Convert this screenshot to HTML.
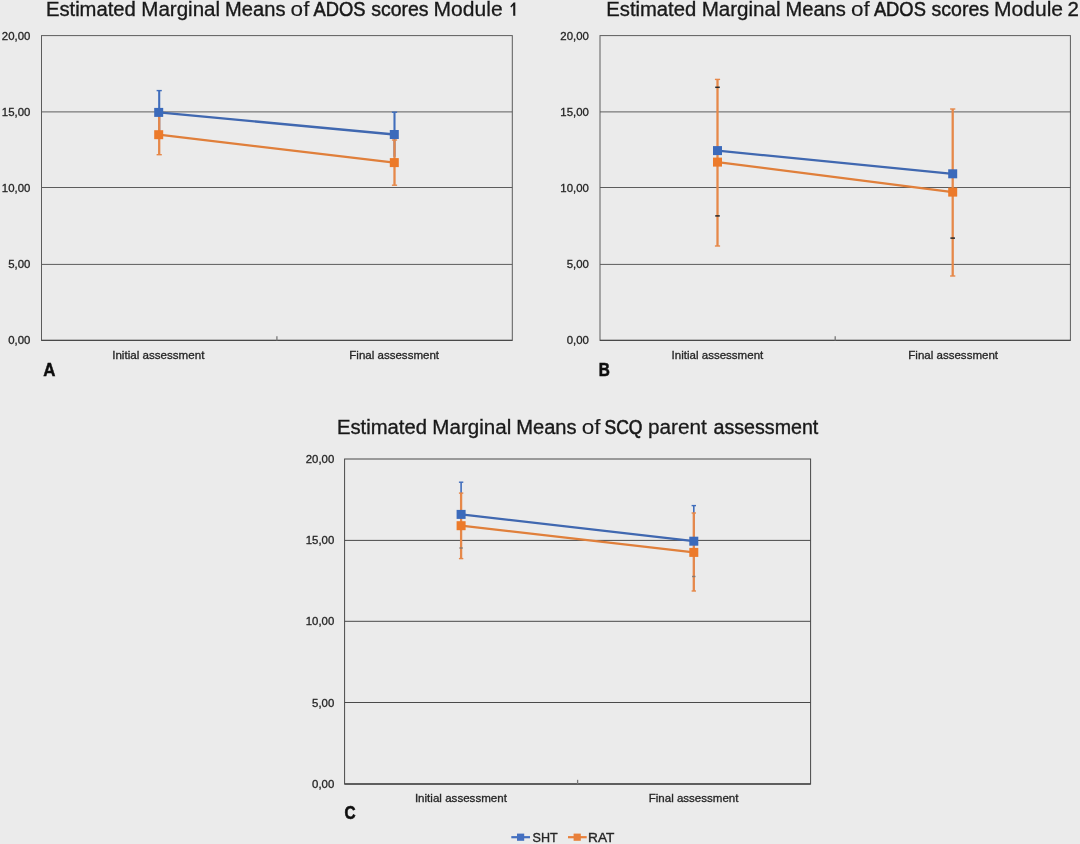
<!DOCTYPE html>
<html><head><meta charset="utf-8"><title>Estimated Marginal Means</title>
<style>
html,body{margin:0;padding:0;background:#EBEBEB;}
body{width:1080px;height:844px;overflow:hidden;font-family:"Liberation Sans",sans-serif;}
svg{display:block;font-family:"Liberation Sans",sans-serif;}
</style></head>
<body>
<svg width="1080" height="844" viewBox="0 0 1080 844">
<defs>
<filter id="soft" x="0" y="0" width="1080" height="844" filterUnits="userSpaceOnUse"><feGaussianBlur stdDeviation="0.38"/></filter>
<filter id="soft2" x="0" y="0" width="1080" height="844" filterUnits="userSpaceOnUse"><feGaussianBlur stdDeviation="0.25"/></filter>
</defs>
<rect x="0" y="0" width="1080" height="844" fill="#EBEBEB"/>
<g filter="url(#soft2)">
<line x1="41.5" y1="111.9" x2="512.3" y2="111.9" stroke="#5c5c5c" stroke-width="1.0"/>
<line x1="41.5" y1="187.5" x2="512.3" y2="187.5" stroke="#5c5c5c" stroke-width="1.0"/>
<line x1="41.5" y1="264.4" x2="512.3" y2="264.4" stroke="#5c5c5c" stroke-width="1.0"/>
<rect x="41.5" y="35.6" width="470.8" height="304.8" fill="none" stroke="#5c5c5c" stroke-width="1.0"/>
<line x1="41.5" y1="340.4" x2="512.3" y2="340.4" stroke="#4a4a4a" stroke-width="1.3"/>
<line x1="276.9" y1="340.4" x2="276.9" y2="336.2" stroke="#777" stroke-width="1.3"/>
<line x1="159.2" y1="90.6" x2="159.2" y2="134.2" stroke="#3F6DBC" stroke-width="2.1"/>
<line x1="156.6" y1="90.6" x2="161.8" y2="90.6" stroke="#3F6DBC" stroke-width="1.4"/>
<line x1="394.5" y1="112.2" x2="394.5" y2="156.8" stroke="#3F6DBC" stroke-width="2.1"/>
<line x1="391.9" y1="112.2" x2="397.1" y2="112.2" stroke="#3F6DBC" stroke-width="1.4"/>
<line x1="159.2" y1="114.7" x2="159.2" y2="154.7" stroke="#E6884A" stroke-width="2.3"/>
<line x1="156.6" y1="114.7" x2="161.8" y2="114.7" stroke="#E6884A" stroke-width="1.4"/>
<line x1="156.6" y1="154.7" x2="161.8" y2="154.7" stroke="#E6884A" stroke-width="1.4"/>
<line x1="394.5" y1="140.0" x2="394.5" y2="185.2" stroke="#E6884A" stroke-width="2.3"/>
<line x1="391.9" y1="140.0" x2="397.1" y2="140.0" stroke="#E6884A" stroke-width="1.4"/>
<line x1="391.9" y1="185.2" x2="397.1" y2="185.2" stroke="#E6884A" stroke-width="1.4"/>
<line x1="158.7" y1="112.4" x2="394.3" y2="134.5" stroke="#4067B0" stroke-width="2.3"/>
<rect x="154.2" y="107.9" width="9.0" height="9.0" fill="#3B6ABB"/>
<rect x="389.8" y="130.0" width="9.0" height="9.0" fill="#3B6ABB"/>
<line x1="158.7" y1="134.7" x2="394.3" y2="162.6" stroke="#E07F3A" stroke-width="2.3"/>
<rect x="154.2" y="130.2" width="9.0" height="9.0" fill="#EC7A2A"/>
<rect x="389.8" y="158.1" width="9.0" height="9.0" fill="#EC7A2A"/>
<path d="M510.3 6.4 L513.6 2.5 L515.3 2.5 L515.3 15.7 L513.2 15.7 L513.2 5.4 L511.3 7.6 Z" fill="#1a1a1a"/>
<line x1="600" y1="111.9" x2="1070.4" y2="111.9" stroke="#5c5c5c" stroke-width="1.0"/>
<line x1="600" y1="187.5" x2="1070.4" y2="187.5" stroke="#5c5c5c" stroke-width="1.0"/>
<line x1="600" y1="264.4" x2="1070.4" y2="264.4" stroke="#5c5c5c" stroke-width="1.0"/>
<rect x="600" y="35.6" width="470.4" height="304.8" fill="none" stroke="#5c5c5c" stroke-width="1.0"/>
<line x1="600" y1="340.4" x2="1070.4" y2="340.4" stroke="#4a4a4a" stroke-width="1.3"/>
<line x1="835.2" y1="340.4" x2="835.2" y2="336.2" stroke="#777" stroke-width="1.3"/>
<line x1="717.5" y1="79.4" x2="717.5" y2="246.0" stroke="#E6884A" stroke-width="2.3"/>
<line x1="714.9" y1="79.4" x2="720.1" y2="79.4" stroke="#E6884A" stroke-width="1.4"/>
<line x1="714.9" y1="246.0" x2="720.1" y2="246.0" stroke="#E6884A" stroke-width="1.4"/>
<line x1="952.7" y1="109.0" x2="952.7" y2="276.0" stroke="#E6884A" stroke-width="2.3"/>
<line x1="950.1" y1="109.0" x2="955.3" y2="109.0" stroke="#E6884A" stroke-width="1.4"/>
<line x1="950.1" y1="276.0" x2="955.3" y2="276.0" stroke="#E6884A" stroke-width="1.4"/>
<rect x="715.2" y="86.55" width="4.6" height="1.5" fill="#2a2a2a"/>
<rect x="715.2" y="215.15" width="4.6" height="1.5" fill="#2a2a2a"/>
<rect x="950.4" y="237.35" width="4.6" height="1.5" fill="#2a2a2a"/>
<line x1="717.5" y1="150.6" x2="952.7" y2="173.8" stroke="#4067B0" stroke-width="2.3"/>
<rect x="713.0" y="146.1" width="9.0" height="9.0" fill="#3B6ABB"/>
<rect x="948.2" y="169.3" width="9.0" height="9.0" fill="#3B6ABB"/>
<line x1="717.5" y1="162.1" x2="952.7" y2="192.1" stroke="#E07F3A" stroke-width="2.3"/>
<rect x="713.0" y="157.6" width="9.0" height="9.0" fill="#EC7A2A"/>
<rect x="948.2" y="187.6" width="9.0" height="9.0" fill="#EC7A2A"/>
<line x1="344.6" y1="540.4" x2="810.6" y2="540.4" stroke="#484848" stroke-width="1.0"/>
<line x1="344.6" y1="621.3" x2="810.6" y2="621.3" stroke="#484848" stroke-width="1.0"/>
<line x1="344.6" y1="702.5" x2="810.6" y2="702.5" stroke="#484848" stroke-width="1.0"/>
<rect x="344.6" y="459.0" width="466.0" height="325.0" fill="none" stroke="#484848" stroke-width="1.0"/>
<line x1="344.6" y1="784.0" x2="810.6" y2="784.0" stroke="#4a4a4a" stroke-width="1.3"/>
<line x1="577.6" y1="784.0" x2="577.6" y2="779.8" stroke="#777" stroke-width="1.3"/>
<line x1="461.1" y1="482.2" x2="461.1" y2="548.0" stroke="#3F6DBC" stroke-width="1.6"/>
<line x1="458.9" y1="482.2" x2="463.3" y2="482.2" stroke="#3F6DBC" stroke-width="1.4"/>
<line x1="693.8" y1="505.6" x2="693.8" y2="576.5" stroke="#3F6DBC" stroke-width="1.6"/>
<line x1="691.6" y1="505.6" x2="696.0" y2="505.6" stroke="#3F6DBC" stroke-width="1.4"/>
<line x1="461.1" y1="493.1" x2="461.1" y2="558.6" stroke="#E6884A" stroke-width="2.3"/>
<line x1="458.9" y1="493.1" x2="463.3" y2="493.1" stroke="#E6884A" stroke-width="1.4"/>
<line x1="458.9" y1="558.6" x2="463.3" y2="558.6" stroke="#E6884A" stroke-width="1.4"/>
<line x1="693.8" y1="513.0" x2="693.8" y2="591.0" stroke="#E6884A" stroke-width="2.3"/>
<line x1="691.6" y1="513.0" x2="696.0" y2="513.0" stroke="#E6884A" stroke-width="1.4"/>
<line x1="691.6" y1="591.0" x2="696.0" y2="591.0" stroke="#E6884A" stroke-width="1.4"/>
<rect x="459.4" y="547.3" width="3.4" height="1.4" fill="#8a7a70"/>
<rect x="692.1" y="575.8" width="3.4" height="1.4" fill="#8a7a70"/>
<line x1="461.1" y1="514.4" x2="693.8" y2="541.2" stroke="#4067B0" stroke-width="2.3"/>
<rect x="456.6" y="509.9" width="9.0" height="9.0" fill="#3B6ABB"/>
<rect x="689.3" y="536.7" width="9.0" height="9.0" fill="#3B6ABB"/>
<line x1="461.1" y1="525.7" x2="693.8" y2="552.4" stroke="#E07F3A" stroke-width="2.3"/>
<rect x="456.6" y="521.2" width="9.0" height="9.0" fill="#EC7A2A"/>
<rect x="689.3" y="547.9" width="9.0" height="9.0" fill="#EC7A2A"/>
<line x1="511.3" y1="837.2" x2="530" y2="837.2" stroke="#4470C0" stroke-width="2.2"/>
<rect x="517.0" y="833.6" width="7.2" height="7.2" fill="#4470C0"/>
<line x1="568" y1="837.2" x2="586.7" y2="837.2" stroke="#E8803A" stroke-width="2.2"/>
<rect x="573.6" y="833.6" width="7.2" height="7.2" fill="#E8803A"/>
</g>
<g filter="url(#soft)">
<text x="1.86" y="39.5" font-size="11.4" font-weight="normal" fill="#262626" stroke="#262626" stroke-width="0.31">20,00</text>
<text x="1.86" y="115.7" font-size="11.4" font-weight="normal" fill="#262626" stroke="#262626" stroke-width="0.31">15,00</text>
<text x="1.86" y="191.9" font-size="11.4" font-weight="normal" fill="#262626" stroke="#262626" stroke-width="0.31">10,00</text>
<text x="8.20" y="268.1" font-size="11.4" font-weight="normal" fill="#262626" stroke="#262626" stroke-width="0.31">5,00</text>
<text x="8.20" y="344.3" font-size="11.4" font-weight="normal" fill="#262626" stroke="#262626" stroke-width="0.31">0,00</text>
<text x="45.92" y="15.7" font-size="19.5" font-weight="normal" fill="#1a1a1a" stroke="#1a1a1a" stroke-width="0.35" textLength="89.92" lengthAdjust="spacingAndGlyphs">Estimated</text>
<text x="141.29" y="15.7" font-size="19.5" font-weight="normal" fill="#1a1a1a" stroke="#1a1a1a" stroke-width="0.31" textLength="78.86" lengthAdjust="spacingAndGlyphs">Marginal</text>
<text x="225.13" y="15.7" font-size="19.5" font-weight="normal" fill="#1a1a1a" stroke="#1a1a1a" stroke-width="0.36" textLength="60.30" lengthAdjust="spacingAndGlyphs">Means</text>
<text x="290.59" y="15.7" font-size="19.5" font-weight="normal" fill="#1a1a1a" stroke="#1a1a1a" stroke-width="0.1" textLength="18.83" lengthAdjust="spacingAndGlyphs">of</text>
<text x="313.50" y="15.7" font-size="19.5" font-weight="normal" fill="#1a1a1a" stroke="#1a1a1a" stroke-width="0.54" textLength="51.97" lengthAdjust="spacingAndGlyphs">ADOS</text>
<text x="371.20" y="15.7" font-size="19.5" font-weight="normal" fill="#1a1a1a" stroke="#1a1a1a" stroke-width="0.42" textLength="57.41" lengthAdjust="spacingAndGlyphs">scores</text>
<text x="433.55" y="15.7" font-size="19.5" font-weight="normal" fill="#1a1a1a" stroke="#1a1a1a" stroke-width="0.26" textLength="69.10" lengthAdjust="spacingAndGlyphs">Module</text>
<text x="112.19" y="358.7" font-size="11.5" font-weight="normal" fill="#262626" stroke="#262626" stroke-width="0.31" textLength="92.17" lengthAdjust="spacingAndGlyphs">Initial assessment</text>
<text x="349.30" y="358.7" font-size="11.5" font-weight="normal" fill="#262626" stroke="#262626" stroke-width="0.31" textLength="89.76" lengthAdjust="spacingAndGlyphs">Final assessment</text>
<text x="43.14" y="375.8" font-size="17.5" font-weight="bold" fill="#111" stroke="#111" stroke-width="0.45" textLength="12.18" lengthAdjust="spacingAndGlyphs">A</text>
<text x="560.36" y="39.5" font-size="11.4" font-weight="normal" fill="#262626" stroke="#262626" stroke-width="0.31">20,00</text>
<text x="560.36" y="115.7" font-size="11.4" font-weight="normal" fill="#262626" stroke="#262626" stroke-width="0.31">15,00</text>
<text x="560.36" y="191.9" font-size="11.4" font-weight="normal" fill="#262626" stroke="#262626" stroke-width="0.31">10,00</text>
<text x="566.70" y="268.1" font-size="11.4" font-weight="normal" fill="#262626" stroke="#262626" stroke-width="0.31">5,00</text>
<text x="566.70" y="344.3" font-size="11.4" font-weight="normal" fill="#262626" stroke="#262626" stroke-width="0.31">0,00</text>
<text x="606.32" y="15.7" font-size="19.5" font-weight="normal" fill="#1a1a1a" stroke="#1a1a1a" stroke-width="0.35" textLength="89.92" lengthAdjust="spacingAndGlyphs">Estimated</text>
<text x="701.69" y="15.7" font-size="19.5" font-weight="normal" fill="#1a1a1a" stroke="#1a1a1a" stroke-width="0.31" textLength="78.86" lengthAdjust="spacingAndGlyphs">Marginal</text>
<text x="785.53" y="15.7" font-size="19.5" font-weight="normal" fill="#1a1a1a" stroke="#1a1a1a" stroke-width="0.36" textLength="60.30" lengthAdjust="spacingAndGlyphs">Means</text>
<text x="850.99" y="15.7" font-size="19.5" font-weight="normal" fill="#1a1a1a" stroke="#1a1a1a" stroke-width="0.1" textLength="18.83" lengthAdjust="spacingAndGlyphs">of</text>
<text x="873.90" y="15.7" font-size="19.5" font-weight="normal" fill="#1a1a1a" stroke="#1a1a1a" stroke-width="0.54" textLength="51.97" lengthAdjust="spacingAndGlyphs">ADOS</text>
<text x="931.60" y="15.7" font-size="19.5" font-weight="normal" fill="#1a1a1a" stroke="#1a1a1a" stroke-width="0.42" textLength="57.41" lengthAdjust="spacingAndGlyphs">scores</text>
<text x="993.95" y="15.7" font-size="19.5" font-weight="normal" fill="#1a1a1a" stroke="#1a1a1a" stroke-width="0.26" textLength="69.10" lengthAdjust="spacingAndGlyphs">Module</text>
<text x="1067.44" y="15.7" font-size="19.5" font-weight="normal" fill="#1a1a1a" stroke="#1a1a1a" stroke-width="0.32" textLength="11.39" lengthAdjust="spacingAndGlyphs">2</text>
<text x="671.60" y="358.7" font-size="11.5" font-weight="normal" fill="#262626" stroke="#262626" stroke-width="0.31" textLength="91.66" lengthAdjust="spacingAndGlyphs">Initial assessment</text>
<text x="908.30" y="358.7" font-size="11.5" font-weight="normal" fill="#262626" stroke="#262626" stroke-width="0.31" textLength="89.76" lengthAdjust="spacingAndGlyphs">Final assessment</text>
<text x="598.84" y="375.9" font-size="17.5" font-weight="bold" fill="#111" stroke="#111" stroke-width="0.6" textLength="11.09" lengthAdjust="spacingAndGlyphs">B</text>
<text x="305.76" y="462.6" font-size="11.4" font-weight="normal" fill="#262626" stroke="#262626" stroke-width="0.31">20,00</text>
<text x="305.76" y="544.01" font-size="11.4" font-weight="normal" fill="#262626" stroke="#262626" stroke-width="0.31">15,00</text>
<text x="305.76" y="625.42" font-size="11.4" font-weight="normal" fill="#262626" stroke="#262626" stroke-width="0.31">10,00</text>
<text x="312.10" y="706.84" font-size="11.4" font-weight="normal" fill="#262626" stroke="#262626" stroke-width="0.31">5,00</text>
<text x="312.10" y="788.25" font-size="11.4" font-weight="normal" fill="#262626" stroke="#262626" stroke-width="0.31">0,00</text>
<text x="337.02" y="434.1" font-size="19.5" font-weight="normal" fill="#1a1a1a" stroke="#1a1a1a" stroke-width="0.35" textLength="89.92" lengthAdjust="spacingAndGlyphs">Estimated</text>
<text x="432.39" y="434.1" font-size="19.5" font-weight="normal" fill="#1a1a1a" stroke="#1a1a1a" stroke-width="0.31" textLength="78.86" lengthAdjust="spacingAndGlyphs">Marginal</text>
<text x="516.23" y="434.1" font-size="19.5" font-weight="normal" fill="#1a1a1a" stroke="#1a1a1a" stroke-width="0.36" textLength="60.30" lengthAdjust="spacingAndGlyphs">Means</text>
<text x="581.69" y="434.1" font-size="19.5" font-weight="normal" fill="#1a1a1a" stroke="#1a1a1a" stroke-width="0.1" textLength="18.83" lengthAdjust="spacingAndGlyphs">of</text>
<text x="604.55" y="434.1" font-size="19.5" font-weight="normal" fill="#1a1a1a" stroke="#1a1a1a" stroke-width="0.63" textLength="37.91" lengthAdjust="spacingAndGlyphs">SCQ</text>
<text x="648.00" y="434.1" font-size="19.5" font-weight="normal" fill="#1a1a1a" stroke="#1a1a1a" stroke-width="0.29" textLength="58.83" lengthAdjust="spacingAndGlyphs">parent</text>
<text x="713.49" y="434.1" font-size="19.5" font-weight="normal" fill="#1a1a1a" stroke="#1a1a1a" stroke-width="0.4" textLength="104.85" lengthAdjust="spacingAndGlyphs">assessment</text>
<text x="414.90" y="802.0" font-size="11.5" font-weight="normal" fill="#262626" stroke="#262626" stroke-width="0.31" textLength="92.07" lengthAdjust="spacingAndGlyphs">Initial assessment</text>
<text x="648.70" y="802.0" font-size="11.5" font-weight="normal" fill="#262626" stroke="#262626" stroke-width="0.31" textLength="89.76" lengthAdjust="spacingAndGlyphs">Final assessment</text>
<text x="344.62" y="819.2" font-size="17.5" font-weight="bold" fill="#111" stroke="#111" stroke-width="0.6" textLength="11.07" lengthAdjust="spacingAndGlyphs">C</text>
<text x="532.61" y="842.0" font-size="13.5" font-weight="normal" fill="#262626" stroke="#262626" stroke-width="0.36" textLength="25.11" lengthAdjust="spacingAndGlyphs">SHT</text>
<text x="588.13" y="842.0" font-size="13.5" font-weight="normal" fill="#262626" stroke="#262626" stroke-width="0.36" textLength="26.30" lengthAdjust="spacingAndGlyphs">RAT</text>
</g>
</svg>
</body></html>
